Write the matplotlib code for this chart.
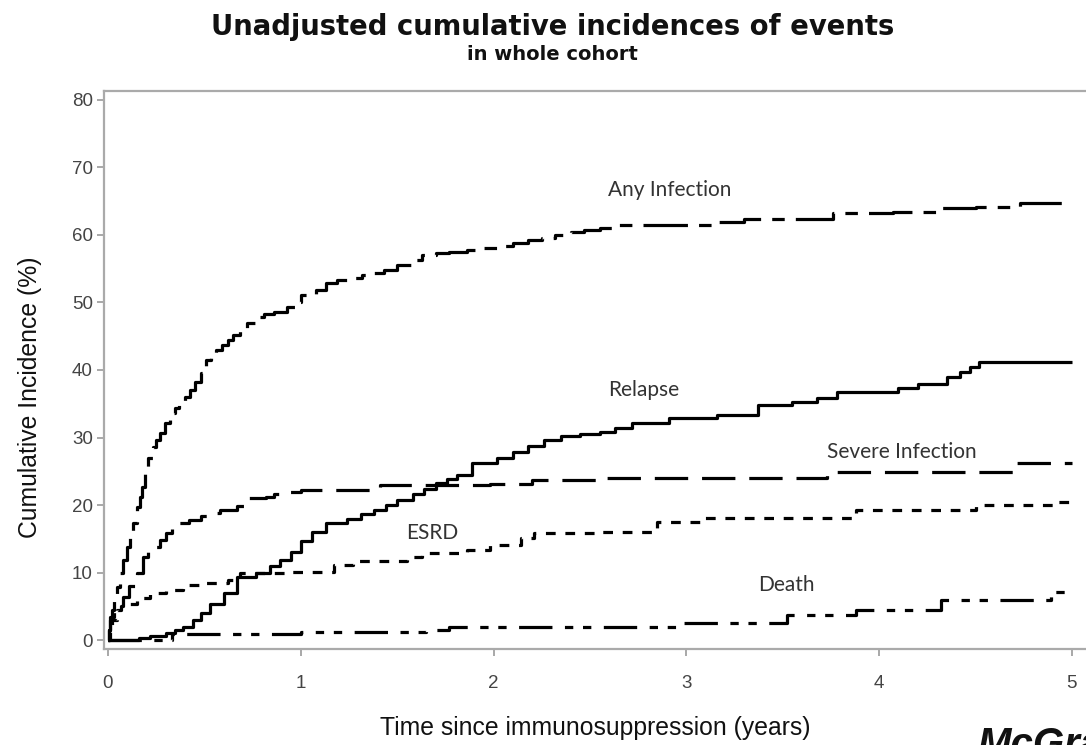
import matplotlib
matplotlib.use("Agg")
import matplotlib.pyplot as plt

# ---------------- data ----------------
any_t = [0, 0.005, 0.01, 0.02, 0.03, 0.045, 0.06, 0.08, 0.10, 0.115, 0.13, 0.15, 0.165, 0.175,
         0.19, 0.21, 0.235, 0.25, 0.27, 0.295, 0.32, 0.345, 0.37, 0.40, 0.425, 0.45, 0.48, 0.51,
         0.535, 0.56, 0.59, 0.62, 0.65, 0.685, 0.72, 0.77, 0.81, 0.86, 0.93, 0.97, 1.0, 1.08,
         1.13, 1.19, 1.25, 1.32, 1.38, 1.43, 1.50, 1.57, 1.63, 1.70, 1.77, 1.86, 1.95, 2.02,
         2.10, 2.18, 2.25, 2.32, 2.40, 2.47, 2.55, 2.62, 3.14, 3.30, 3.76, 4.07, 4.30, 4.50,
         4.73, 5.0]
any_v = [0, 1.5, 3.0, 4.5, 5.9, 7.9, 9.9, 11.9, 13.8, 15.5, 17.3, 19.7, 21.2, 22.7,
         25.7, 27.0, 28.6, 29.6, 30.6, 32.1, 33.6, 34.4, 35.1, 36.0, 37.0, 38.2, 39.5, 41.5,
         42.2, 43.0, 43.7, 44.4, 45.2, 45.9, 46.9, 47.9, 48.3, 48.6, 49.3, 50.0, 51.1, 51.8,
         52.9, 53.3, 53.7, 54.0, 54.4, 54.8, 55.6, 56.3, 57.0, 57.3, 57.5, 57.8, 58.0, 58.4,
         58.8, 59.2, 59.5, 60.0, 60.5, 60.8, 61.0, 61.5, 61.9, 62.3, 63.2, 63.4, 64.0, 64.2,
         64.7, 64.7]

rel_t = [0, 0.16, 0.22, 0.30, 0.35, 0.39, 0.44, 0.48, 0.53, 0.60, 0.67, 0.77, 0.84, 0.89,
         0.95, 1.0, 1.06, 1.13, 1.24, 1.31, 1.38, 1.44, 1.50, 1.58, 1.64, 1.70, 1.76, 1.81,
         1.89, 2.02, 2.10, 2.18, 2.26, 2.35, 2.45, 2.55, 2.63, 2.72, 2.91, 3.16, 3.37, 3.55,
         3.68, 3.78, 4.10, 4.20, 4.35, 4.42, 4.47, 4.52, 5.0]
rel_v = [0, 0.3, 0.6, 1.0, 1.5, 2.0, 3.0, 4.0, 5.4, 6.9, 9.4, 9.9, 10.9, 11.9,
         13.0, 14.6, 16.0, 17.3, 18.0, 18.6, 19.3, 20.0, 20.7, 21.7, 22.4, 23.2, 23.8, 24.4,
         26.2, 26.9, 27.9, 28.8, 29.6, 30.2, 30.5, 30.8, 31.4, 32.1, 32.9, 33.3, 34.8, 35.2,
         35.8, 36.7, 37.3, 38.0, 39.0, 39.7, 40.4, 41.2, 41.2]

sev_t = [0, 0.005, 0.01, 0.03, 0.05, 0.08, 0.11, 0.15, 0.18, 0.21, 0.235, 0.27, 0.30, 0.33,
         0.36, 0.42, 0.48, 0.53, 0.58, 0.67, 0.72, 0.82, 0.86, 0.94, 1.0, 1.41, 1.98, 2.2,
         2.55, 3.73, 4.71, 5.0]
sev_v = [0, 1.5, 3.4, 4.2, 5.0, 6.4, 8.0, 9.9, 12.3, 13.0, 13.8, 14.8, 15.8, 16.5,
         17.3, 17.8, 18.3, 18.8, 19.3, 19.8, 21.0, 21.2, 21.7, 22.0, 22.2, 23.0, 23.1, 23.7,
         24.0, 24.9, 26.2, 26.2]

esrd_t = [0, 0.01, 0.02, 0.045, 0.07, 0.10, 0.15, 0.22, 0.30, 0.39, 0.51, 0.62, 0.685, 0.93,
          1.08, 1.17, 1.27, 1.55, 1.63, 1.86, 1.98, 2.14, 2.21, 2.55, 2.85, 3.07, 3.88, 4.50,
          4.90, 5.0]
esrd_v = [0, 1.5, 3.0, 4.4, 5.0, 5.4, 6.2, 6.9, 7.4, 8.1, 8.4, 8.9, 9.9, 10.1,
          10.1, 11.1, 11.7, 12.3, 12.9, 13.3, 14.1, 15.1, 15.8, 16.0, 17.5, 18.1, 19.3, 20.0,
          20.4, 20.7]

death_t = [0, 0.33, 1.00, 1.65, 1.77, 2.62, 2.95, 3.52, 3.88, 4.32, 4.89, 5.0]
death_v = [0, 0.9, 1.2, 1.5, 2.0, 2.0, 2.5, 3.7, 4.4, 5.9, 7.1, 7.1]

labels = ["Any Infection", "Relapse", "Severe Infection", "ESRD", "Death"]
label_pos = [(2.915, 66.7), (2.78, 37.0), (4.12, 27.9), (1.68, 15.9), (3.52, 8.1)]

x_ticks = [0, 1, 2, 3, 4, 5]
y_ticks = [0, 10, 20, 30, 40, 50, 60, 70, 80]

# ---------------- figure ----------------
plt.rcParams['lines.scale_dashes'] = False
W, H = 1086, 745
fig = plt.figure(figsize=(W / 100, H / 100), dpi=100)
fig.patch.set_facecolor("white")

ax_l, ax_r, ax_t, ax_b = 104, 1092, 91, 649
ax = fig.add_axes([ax_l / W, 1 - ax_b / H, (ax_r - ax_l) / W, (ax_b - ax_t) / H])
ax.set_xlim(-0.0207, 5.104)
ax.set_ylim(-1.33, 81.33)

lw = 2.3
series = [
    (any_t, any_v, (0, (32, 8, 9, 8))),
    (rel_t, rel_v, "-"),
    (sev_t, sev_v, (0, (24, 10))),
    (esrd_t, esrd_v, (0, (7, 7))),
    (death_t, death_v, (0, (24, 9, 6, 7, 6, 9))),
]
for t, v, ls in series:
    ax.plot(t, v, drawstyle="steps-post", color="black", lw=lw, linestyle=ls,
            solid_capstyle="butt", dash_capstyle="butt")

for lab, (x, y) in zip(labels, label_pos):
    ax.text(x, y, lab, ha="center", va="center", fontsize=15, family="Lato",
            color="#333333")

for s in ["left", "bottom", "top", "right"]:
    ax.spines[s].set_color("#aaaaaa")
    ax.spines[s].set_linewidth(1.6)

ax.set_xticks(x_ticks)
ax.set_yticks(y_ticks)
ax.tick_params(axis="both", colors="#999999", length=5, width=1.2,
               labelcolor="#444444", labelsize=13.5)
ax.tick_params(axis="x", pad=14)
ax.tick_params(axis="y", pad=3)
for lbl in ax.get_xticklabels() + ax.get_yticklabels():
    lbl.set_family("Liberation Sans")

fig.text(553 / W, 1 - 27 / H, "Unadjusted cumulative incidences of events",
         ha="center", va="center", fontsize=19.8, fontweight="bold",
         family="DejaVu Sans", color="#111111")
fig.text(552 / W, 1 - 55 / H, "in whole cohort", ha="center", va="center",
         fontsize=14, fontweight="bold", family="DejaVu Sans", color="#111111")
fig.text(595 / W, 1 - 728 / H, "Time since immunosuppression (years)",
         ha="center", va="center", fontsize=17.8, family="Liberation Sans",
         color="#111111")
fig.text(30 / W, 1 - 397 / H, "Cumulative Incidence (%)", rotation=90,
         ha="center", va="center", fontsize=17.8, family="Liberation Sans",
         color="#111111")
fig.text(977 / W, 1 - 726 / H, "McGraw", ha="left", va="top", fontsize=29,
         fontweight="bold", fontstyle="italic", family="Liberation Sans",
         color="#111111")

fig.savefig("out.png", dpi=100, facecolor="white")
